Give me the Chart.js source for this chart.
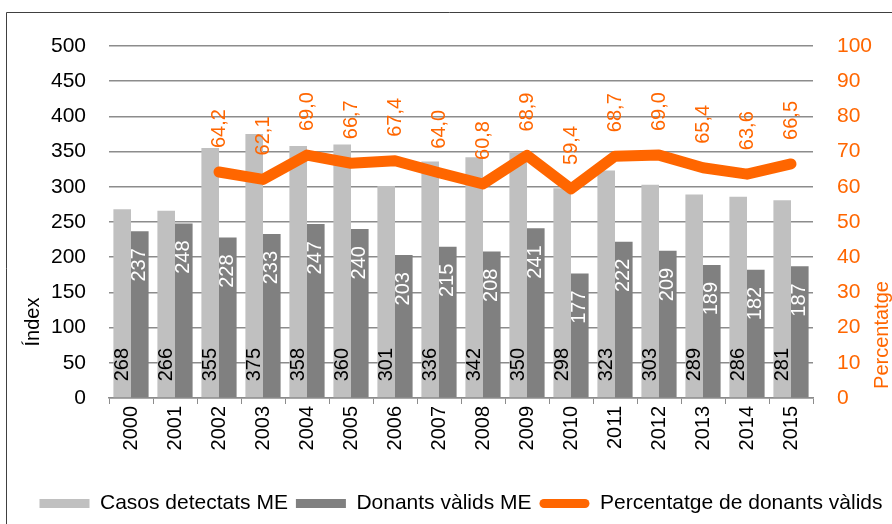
<!DOCTYPE html>
<html>
<head>
<meta charset="utf-8">
<script src="https://cdn.jsdelivr.net/npm/chart.js@4.4.1/dist/chart.umd.min.js"></script>
<style>
  html, body { margin: 0; padding: 0; background: #fff; overflow: hidden; }
  #wrap { position: relative; width: 892px; height: 524px; }
</style>
</head>
<body>
<div id="wrap"><canvas id="chart" width="892" height="524"></canvas></div>
<script>
/* ---- Dades ---- */
const anys       = ['2000','2001','2002','2003','2004','2005','2006','2007','2008','2009','2010','2011','2012','2013','2014','2015'];
const casos      = [268, 266, 355, 375, 358, 360, 301, 336, 342, 350, 298, 323, 303, 289, 286, 281];
const donants    = [237, 248, 228, 233, 247, 240, 203, 215, 208, 241, 177, 222, 209, 189, 182, 187];
const percentatge = [null, null, 64.2, 62.1, 69.0, 66.7, 67.4, 64.0, 60.8, 68.9, 59.4, 68.7, 69.0, 65.4, 63.6, 66.5];

const FONT = '"Liberation Sans", Arial, sans-serif';
const ORANGE = '#FF6600';
const GRID = '#8c8c8c';

/* ---- Etiquetes de valor i marc ---- */
const valueLabels = {
  id: 'valueLabels',
  beforeDraw(chart) {
    const ctx = chart.ctx;
    ctx.save();
    ctx.strokeStyle = '#404040';
    ctx.lineWidth = 1;
    ctx.beginPath();
    ctx.moveTo(6.5, chart.height);
    ctx.lineTo(6.5, 12.5);
    ctx.lineTo(chart.width, 12.5);
    ctx.stroke();
    ctx.restore();
  },
  afterDatasetsDraw(chart) {
    const ctx = chart.ctx;
    ctx.save();
    ctx.font = '20px ' + FONT;
    ctx.textBaseline = 'middle';
    chart.data.datasets.forEach((ds, i) => {
      const meta = chart.getDatasetMeta(i);
      meta.data.forEach((el, j) => {
        const v = ds.data[j];
        if (v == null) return;
        ctx.save();
        if (ds.type === 'line') {
          ctx.translate(el.x, el.y - 24);
          ctx.textAlign = 'left';
          ctx.fillStyle = ORANGE;
          ctx.rotate(-Math.PI / 2);
          ctx.fillText(v.toFixed(1).replace('.', ','), 0, 0);
        } else if (i === 0) {
          ctx.translate(el.x, el.base - 16);
          ctx.textAlign = 'left';
          ctx.fillStyle = '#000';
          ctx.rotate(-Math.PI / 2);
          ctx.fillText(String(v), 0, 0);
        } else {
          ctx.translate(el.x, el.y + 17);
          ctx.textAlign = 'right';
          ctx.fillStyle = '#fff';
          ctx.rotate(-Math.PI / 2);
          ctx.fillText(String(v), 0, 0);
        }
        ctx.restore();
      });
    });

    // titols dels eixos
    ctx.font = '20px ' + FONT;
    ctx.textAlign = 'center';
    ctx.save();
    ctx.translate(33, 322);
    ctx.rotate(-Math.PI / 2);
    ctx.fillStyle = '#000';
    ctx.fillText('Índex', 0, 0);
    ctx.restore();
    ctx.save();
    ctx.translate(882, 335);
    ctx.rotate(-Math.PI / 2);
    ctx.fillStyle = ORANGE;
    ctx.fillText('Percentatge', 0, 0);
    ctx.restore();
    ctx.restore();
  }
};

new Chart(document.getElementById('chart'), {
  type: 'bar',
  data: {
    labels: anys,
    datasets: [
      {
        label: 'Casos detectats ME',
        data: casos,
        backgroundColor: '#C0C0C0',
        yAxisID: 'y',
        order: 1,
        categoryPercentage: 0.8,
        barPercentage: 1.0,
      },
      {
        label: 'Donants vàlids ME',
        data: donants,
        backgroundColor: '#808080',
        yAxisID: 'y',
        order: 1,
        categoryPercentage: 0.8,
        barPercentage: 1.0,
      },
      {
        type: 'line',
        label: 'Percentatge de donants vàlids',
        data: percentatge,
        borderColor: ORANGE,
        backgroundColor: ORANGE,
        borderWidth: 11,
        borderCapStyle: 'round',
        borderJoinStyle: 'round',
        pointRadius: 0,
        tension: 0,
        yAxisID: 'y1',
        order: 0,
      },
    ],
  },
  options: {
    responsive: false,
    animation: false,
    layout: { padding: { top: 46, left: 30, right: 0, bottom: 0 } },
    plugins: {
      tooltip: { enabled: false },
      legend: {
        position: 'bottom',
        labels: {
          color: '#000',
          font: { family: FONT, size: 21 },
          boxWidth: 50,
          boxHeight: 9,
          padding: 8,
          useBorderRadius: true,
          generateLabels(chart) {
            return chart.data.datasets.map((ds, i) => ({
              text: ds.label,
              fillStyle: ds.type === 'line' ? ORANGE : ds.backgroundColor,
              strokeStyle: ds.type === 'line' ? ORANGE : ds.backgroundColor,
              lineWidth: 0,
              borderRadius: ds.type === 'line' ? 4.5 : 0,
              datasetIndex: i,
              fontColor: '#000',
            }));
          },
        },
      },
    },
    scales: {
      x: {
        grid: { display: true, drawOnChartArea: false, drawTicks: true, tickLength: 6, color: GRID, offset: true },
        border: { display: true, color: GRID, width: 1.5 },
        ticks: { color: '#000', font: { family: FONT, size: 20 }, minRotation: 90, maxRotation: 90, padding: 2 },
        afterFit(scale) { scale.height = 87; },
      },
      y: {
        position: 'left',
        min: 0, max: 500,
        ticks: { stepSize: 50, color: '#000', font: { family: FONT, size: 21 }, padding: 23 },
        grid: { color: GRID, lineWidth: 1.5, drawTicks: false },
        border: { display: false },
        afterFit(scale) { scale.width = 79; },
      },
      y1: {
        position: 'right',
        min: 0, max: 100,
        ticks: { stepSize: 10, color: ORANGE, font: { family: FONT, size: 21 }, padding: 24 },
        grid: { drawOnChartArea: false, drawTicks: false },
        border: { display: false },
        afterFit(scale) { scale.width = 79; },
      },
    },
  },
  plugins: [valueLabels],
});
</script>
</body>
</html>
